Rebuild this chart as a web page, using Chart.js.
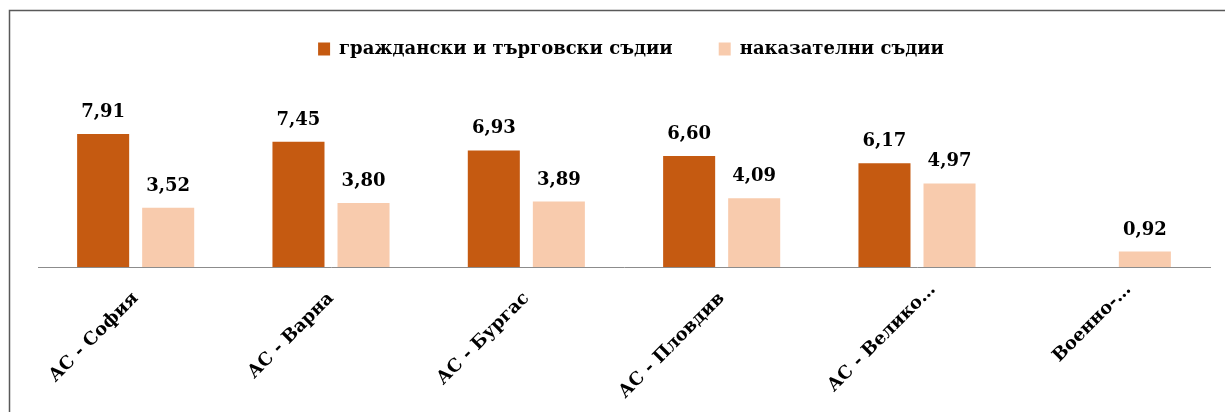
<!DOCTYPE html>
<html>
<head>
<meta charset="utf-8">
<script src="https://cdn.jsdelivr.net/npm/chart.js@4"></script>
<style>
  html, body { margin: 0; padding: 0; background: #fff; overflow: hidden; }
  #wrap { width: 1225px; height: 412px; }
  canvas { display: block; }
</style>
</head>
<body>
<div id="wrap"><canvas id="chart" width="1225" height="412"></canvas></div>
<script>
const categories = ['АС - София', 'АС - Варна', 'АС - Бургас', 'АС - Пловдив', 'АС - Велико…', 'Военно-…'];
const civilCommercial = [7.91, 7.45, 6.93, 6.60, 6.17, null];
const criminal = [3.52, 3.80, 3.89, 4.09, 4.97, 0.92];
const seriesNames = ['граждански и търговски съдии', 'наказателни съдии'];
const seriesColors = ['#C55A11', '#F8CBAD'];

const FONT = "'DejaVu Serif', 'Liberation Serif', serif";

// thin frame left/top only, the picture is a crop of a bigger figure
const framePlugin = {
    id: 'frame',
    beforeDraw(chart) {
        const ctx = chart.ctx;
        ctx.save();
        ctx.strokeStyle = '#595959';
        ctx.lineWidth = 1.5;
        ctx.beginPath();
        ctx.moveTo(9.5, chart.height);
        ctx.lineTo(9.5, 10.5);
        ctx.lineTo(chart.width, 10.5);
        ctx.stroke();
        ctx.beginPath(); // path is not part of save/restore, clear it so later strokes don't reuse it
        ctx.restore();
    }
};

// legend sits a bit right of the plot centre and higher than the padding puts it
const nudges = {
    id: 'nudges',
    afterLayout(chart) {
        chart.legend.left += 7;
        chart.legend.right += 7;
        chart.legend.top -= 6;
        chart.legend.bottom -= 6;
    },
    beforeDraw(chart) {
        const x = chart.scales.x;
        if (x._nudged) return;
        // the truncated names ("…") sit further out than the others
        x.getLabelItems().forEach((item, i) => {
            if (categories[i].endsWith('…')) {
                item.options.translation[0] += 16;
                item.options.translation[1] -= 9;
            }
        });
        x._nudged = true;
    }
};

const valueLabels = {
    id: 'valueLabels',
    afterDatasetsDraw(chart) {
        const ctx = chart.ctx;
        ctx.save();
        ctx.font = `bold 18px ${FONT}`;
        ctx.fillStyle = '#000';
        ctx.textAlign = 'center';
        ctx.textBaseline = 'alphabetic';
        chart.data.datasets.forEach((ds, i) => {
            chart.getDatasetMeta(i).data.forEach((bar, j) => {
                const v = ds.data[j];
                if (v == null) return;
                ctx.fillText(v.toFixed(2).replace('.', ','), bar.x, bar.y - 17);
            });
        });
        ctx.restore();
    }
};

new Chart(document.getElementById('chart'), {
    type: 'bar',
    data: {
        labels: categories,
        datasets: [
            { label: seriesNames[0], data: civilCommercial, backgroundColor: seriesColors[0] },
            { label: seriesNames[1], data: criminal, backgroundColor: seriesColors[1] }
        ]
    },
    options: {
        responsive: false,
        animation: false,
        devicePixelRatio: 1,
        datasets: { bar: { barPercentage: 0.8, categoryPercentage: 0.666 } },
        layout: { padding: { left: 38, right: 15, top: 0, bottom: 0 } },
        plugins: {
            legend: {
                position: 'top',
                labels: {
                    boxWidth: 12,
                    boxHeight: 13,
                    padding: 46,
                    color: '#000',
                    font: { family: FONT, size: 18, weight: 'bold' }
                }
            },
            tooltip: { enabled: false }
        },
        scales: {
            x: {
                grid: { display: false },
                border: { display: true, color: '#8c8c8c', width: 1 },
                ticks: {
                    color: '#000',
                    minRotation: 45,
                    maxRotation: 45,
                    padding: 13,
                    font: { family: FONT, size: 18, weight: 'bold' }
                },
                afterFit(scale) { scale.height = 145; }
            },
            y: { display: false, min: 0, max: 11.48 }
        }
    },
    plugins: [framePlugin, nudges, valueLabels]
});
</script>
</body>
</html>
